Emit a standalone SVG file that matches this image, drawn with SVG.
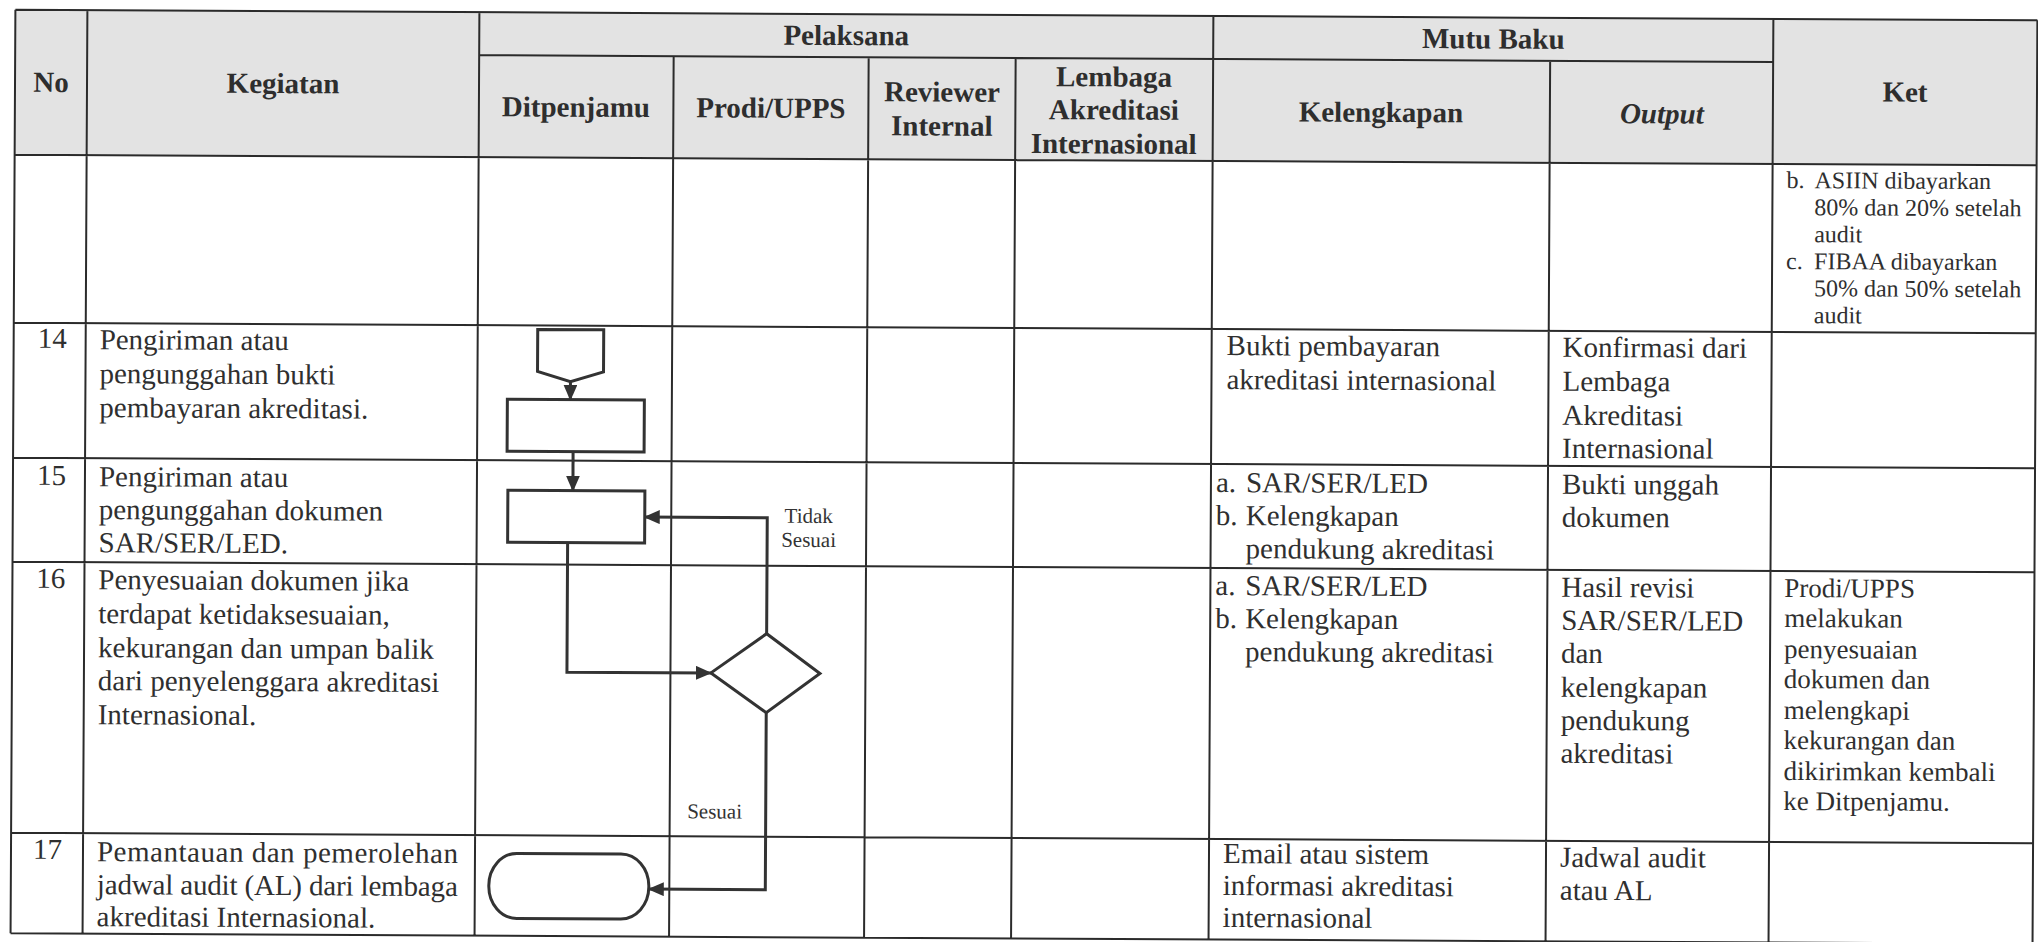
<svg xmlns="http://www.w3.org/2000/svg" width="2038" height="942" viewBox="0 0 2038 942" font-family="Liberation Serif, Times New Roman, serif">
<defs>
<marker id="arr" markerUnits="userSpaceOnUse" markerWidth="16" markerHeight="14" refX="15" refY="7" orient="auto"><path d="M0,0 L16,7 L0,14 z" fill="#333"/></marker>
</defs>
<style>
.grid{stroke:#2b2b2b;stroke-width:2;fill:none}
.hd{font-family:'Liberation Serif',serif;font-weight:bold;font-size:29px;fill:#2e2e2e;text-anchor:middle}
.tx{font-family:'Liberation Serif',serif;font-size:29px;fill:#2f2f2f}
.k1{font-size:24px}
.k2{font-size:27px}
.sm{font-family:'Liberation Serif',serif;font-size:21px;fill:#333}
.shape{fill:none;stroke:#333;stroke-width:3}
.conn{fill:none;stroke:#333;stroke-width:3;marker-end:url(#arr)}
</style>
<rect width="2038" height="942" fill="#fff"/>
<g transform="rotate(0.3 1019 471)">
<g id="table">
<rect x="13" y="15" width="2022" height="145" fill="#e3e3e3"/>
<path class="grid" d="M13,15H2035 M477,58H1771 M13,160H2035 M13,328H2035 M13,463H2035 M13,567H2035 M13,838H2035 M13,938.5H2035 M13,15V938.5 M85,15V938.5 M477,15V938.5 M1211,15V938.5 M1771,15V938.5 M2035,15V938.5 M671.5,58V938.5 M866.5,58V938.5 M1013.5,58V938.5 M1548,58V938.5"/>
</g>
<g id="header">
<text class="hd" x="49" y="97">No</text>
<text class="hd" x="281" y="97">Kegiatan</text>
<text class="hd" x="844" y="46">Pelaksana</text>
<text class="hd" x="1491" y="46">Mutu Baku</text>
<text class="hd" x="574" y="119">Ditpenjamu</text>
<text class="hd" x="769" y="119">Prodi/UPPS</text>
<text class="hd" x="940" y="102">Reviewer</text>
<text class="hd" x="940" y="136">Internal</text>
<text class="hd" x="1112" y="86">Lembaga</text>
<text class="hd" x="1112" y="119">Akreditasi</text>
<text class="hd" x="1112" y="153">Internasional</text>
<text class="hd" x="1379" y="120">Kelengkapan</text>
<text class="hd" x="1660" y="120" font-style="italic">Output</text>
<text class="hd" x="1903" y="97">Ket</text>
</g>
<g id="row13">
<text class="tx k1" x="1785" y="184">b.<tspan x="1813">ASIIN dibayarkan</tspan></text>
<text class="tx k1" x="1813" y="211">80% dan 20% setelah</text>
<text class="tx k1" x="1813" y="238">audit</text>
<text class="tx k1" x="1785" y="265">c.<tspan x="1813">FIBAA dibayarkan</tspan></text>
<text class="tx k1" x="1813" y="292">50% dan 50% setelah</text>
<text class="tx k1" x="1813" y="319">audit</text>
</g>
<g id="row14">
<text class="tx" x="37" y="353">14</text>
<text class="tx" x="99" y="354">Pengiriman atau</text>
<text class="tx" x="99" y="388">pengunggahan bukti</text>
<text class="tx" x="99" y="422">pembayaran akreditasi.</text>
<text class="tx" x="1226" y="354">Bukti pembayaran</text>
<text class="tx" x="1226" y="388">akreditasi internasional</text>
<text class="tx" x="1562" y="354">Konfirmasi dari</text>
<text class="tx" x="1562" y="388">Lembaga</text>
<text class="tx" x="1562" y="422">Akreditasi</text>
<text class="tx" x="1562" y="455">Internasional</text>
</g>
<g id="row15">
<text class="tx" x="37" y="490">15</text>
<text class="tx" x="99" y="491">Pengiriman atau</text>
<text class="tx" x="99" y="524">pengunggahan dokumen</text>
<text class="tx" x="99" y="557">SAR/SER/LED.</text>
<text class="tx" x="1216" y="491">a.<tspan x="1246">SAR/SER/LED</tspan></text>
<text class="tx" x="1216" y="524">b.<tspan x="1246">Kelengkapan</tspan></text>
<text class="tx" x="1246" y="557">pendukung akreditasi</text>
<text class="tx" x="1562" y="491">Bukti unggah</text>
<text class="tx" x="1562" y="524">dokumen</text>
</g>
<g id="row16">
<text class="tx" x="37" y="593">16</text>
<text class="tx" x="99" y="594">Penyesuaian dokumen jika</text>
<text class="tx" x="99" y="628">terdapat ketidaksesuaian,</text>
<text class="tx" x="99" y="662">kekurangan dan umpan balik</text>
<text class="tx" x="99" y="695">dari penyelenggara akreditasi</text>
<text class="tx" x="99" y="729">Internasional.</text>
<text class="tx" x="1216" y="594">a.<tspan x="1246">SAR/SER/LED</tspan></text>
<text class="tx" x="1216" y="627">b.<tspan x="1246">Kelengkapan</tspan></text>
<text class="tx" x="1246" y="660">pendukung akreditasi</text>
<text class="tx" x="1562" y="594">Hasil revisi</text>
<text class="tx" x="1562" y="627">SAR/SER/LED</text>
<text class="tx" x="1562" y="660">dan</text>
<text class="tx" x="1562" y="694">kelengkapan</text>
<text class="tx" x="1562" y="727">pendukung</text>
<text class="tx" x="1562" y="760">akreditasi</text>
<text class="tx k2" x="1785" y="593">Prodi/UPPS</text>
<text class="tx k2" x="1785" y="623">melakukan</text>
<text class="tx k2" x="1785" y="654">penyesuaian</text>
<text class="tx k2" x="1785" y="684">dokumen dan</text>
<text class="tx k2" x="1785" y="715">melengkapi</text>
<text class="tx k2" x="1785" y="745">kekurangan dan</text>
<text class="tx k2" x="1785" y="776">dikirimkan kembali</text>
<text class="tx k2" x="1785" y="806">ke Ditpenjamu.</text>
</g>
<g id="row17">
<text class="tx" x="35" y="864">17</text>
<text class="tx" x="99" y="866" textLength="361" lengthAdjust="spacing">Pemantauan dan pemerolehan</text>
<text class="tx" x="99" y="899" textLength="361" lengthAdjust="spacing">jadwal audit (AL) dari lembaga</text>
<text class="tx" x="99" y="931">akreditasi Internasional.</text>
<text class="tx" x="1225" y="862">Email atau sistem</text>
<text class="tx" x="1225" y="894">informasi akreditasi</text>
<text class="tx" x="1225" y="926">internasional</text>
<text class="tx" x="1562" y="864">Jadwal audit</text>
<text class="tx" x="1562" y="897">atau AL</text>
</g>
<g id="offpage"><path class="shape" d="M537,332 H603 V374 L570,384 L537,374 Z"/></g>
<g id="proc14"><rect class="shape" x="507" y="402" width="137" height="52"/></g>
<g id="proc15"><rect class="shape" x="508" y="493" width="137" height="52"/></g>
<g id="decision"><path class="shape" d="M712,674.5 L767.5,635 L821,674.5 L767.5,714 Z"/></g>
<g id="terminal"><rect class="shape" x="491" y="856" width="160" height="65" rx="28" ry="32"/></g>
<g id="connectors">
<path class="conn" d="M570,384 V402"/>
<path class="conn" d="M573,454 V493"/>
<path class="conn" d="M568,545 V674.5 H712"/>
<path class="conn" d="M767.5,635 V519 H645"/>
<path class="conn" d="M767.5,714 V891 H651"/>
<text class="sm" x="809" y="524" text-anchor="middle">Tidak</text>
<text class="sm" x="809" y="548" text-anchor="middle">Sesuai</text>
<text class="sm" x="689" y="820">Sesuai</text>
</g>
</g>
</svg>
